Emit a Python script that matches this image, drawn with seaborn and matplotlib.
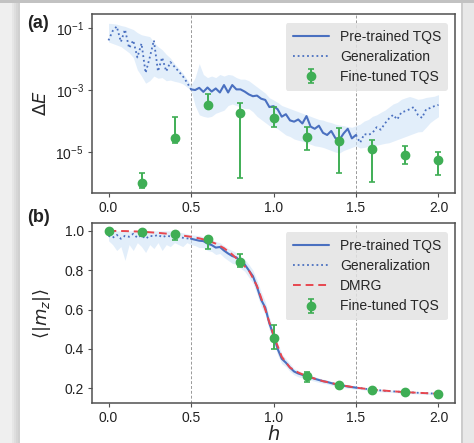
import numpy as np
import pandas as pd
import matplotlib
matplotlib.use("Agg")
import matplotlib.pyplot as plt
from matplotlib.patches import Rectangle
import seaborn as sns

# ---------------- data ----------------
# transverse field grid for the network curves
h_grid = np.round(np.arange(81) * 0.025, 3)

# (a) log10 of the energy error of the pre-trained / generalised model
log_dE_line = [
    -1.40, -1.10, -0.95, -1.45, -1.05, -1.65, -1.40, -1.95, -1.50, -2.45,
    -1.95, -1.40, -2.40, -1.95, -2.40, -2.10, -2.25, -2.40, -2.55, -2.75,
    -2.98, -3.00, -2.93, -3.06, -2.92, -3.05, -2.95, -3.08, -2.84, -3.08,
    -2.84, -2.98, -2.98, -3.05, -3.14, -3.20, -3.18, -3.28, -3.32, -3.55,
    -3.52, -3.62, -3.86, -3.78, -3.98, -4.02, -3.95, -4.08, -3.84, -4.18,
    -4.25, -4.15, -4.38, -4.45, -4.32, -4.55, -4.60, -4.40, -4.25, -4.56,
    -4.45, -4.70, -4.42, -4.45, -4.38, -4.20, -4.28, -4.08, -3.92, -3.80,
    -3.95, -3.72, -3.68, -3.62, -3.55, -3.80, -3.90, -3.62, -3.58, -3.52,
    -3.48,
]
log_dE_band_hi = [
    -0.85, -0.86, -0.88, -0.92, -0.95, -1.00, -1.05, -1.15, -1.22, -1.25,
    -1.28, -1.45, -1.60, -1.70, -1.85, -1.97, -2.15, -2.30, -2.45, -2.65,
    -2.84, -2.60, -2.15, -2.50, -2.60, -2.55, -2.60, -2.50, -2.55, -2.50,
    -2.52, -2.60, -2.65, -2.65, -2.70, -2.80, -2.90, -3.00, -3.10, -3.25,
    -3.32, -3.40, -3.50, -3.55, -3.60, -3.65, -3.70, -3.75, -3.80, -3.85,
    -3.90, -3.95, -3.97, -4.02, -4.05, -4.10, -4.13, -4.15, -4.18, -4.20,
    -4.15, -4.10, -4.00, -3.95, -3.85, -3.80, -3.72, -3.65, -3.55, -3.45,
    -3.40, -3.30, -3.25, -3.21, -3.25, -3.30, -3.28, -3.24, -3.22, -3.20,
    -3.15,
]
log_dE_band_lo = [
    -1.45, -1.50, -1.55, -1.60, -1.70, -1.80, -1.95, -2.35, -2.55, -2.78,
    -2.70, -2.55, -2.62, -2.60, -2.70, -2.68, -2.72, -2.75, -2.80, -2.90,
    -3.00, -3.50, -3.80, -3.85, -3.88, -3.85, -3.75, -3.70, -3.65, -3.50,
    -3.45, -3.50, -3.55, -3.60, -3.60, -3.70, -3.85, -3.95, -4.05, -4.15,
    -4.18, -4.25, -4.35, -4.45, -4.50, -4.58, -4.62, -4.65, -4.70, -4.75,
    -4.80, -4.82, -4.85, -4.90, -4.95, -5.00, -5.03, -4.95, -4.90, -4.85,
    -4.80, -4.87, -4.85, -4.82, -4.80, -4.78, -4.75, -4.72, -4.70, -4.65,
    -4.60, -4.55, -4.50, -4.45, -4.40, -4.35, -4.34, -4.20, -4.05, -3.95,
    -3.86,
]

# (b) magnetisation of the pre-trained / generalised model
mz_line = [
    0.975, 0.965, 0.980, 0.960, 0.975, 0.970, 0.985, 0.965, 0.978, 0.960,
    0.975, 0.972, 0.980, 0.968, 0.975, 0.972, 0.975, 0.970, 0.965, 0.962,
    0.960, 0.955, 0.950, 0.948, 0.935, 0.928, 0.915, 0.918, 0.900, 0.885,
    0.872, 0.865, 0.845, 0.830, 0.800, 0.770, 0.715, 0.650, 0.610, 0.530,
    0.470, 0.400, 0.350, 0.330, 0.305, 0.285, 0.275, 0.268, 0.262, 0.255,
    0.248, 0.242, 0.236, 0.232, 0.226, 0.221, 0.217, 0.213, 0.209, 0.206,
    0.203, 0.201, 0.198, 0.195, 0.193, 0.191, 0.189, 0.187, 0.186, 0.184,
    0.183, 0.181, 0.180, 0.179, 0.178, 0.177, 0.176, 0.175, 0.174, 0.173,
    0.172,
]
mz_band_hi = [
    1.000, 1.000, 1.000, 1.000, 1.000, 1.000, 1.000, 1.000, 1.000, 1.000,
    1.000, 1.000, 1.000, 1.000, 1.000, 1.000, 1.000, 0.995, 0.990, 0.985,
    0.980, 0.978, 0.975, 0.970, 0.960, 0.955, 0.945, 0.940, 0.925, 0.910,
    0.900, 0.890, 0.870, 0.855, 0.830, 0.800, 0.750, 0.690, 0.640, 0.560,
    0.500, 0.430, 0.375, 0.350, 0.325, 0.300, 0.290, 0.280, 0.274, 0.266,
    0.258, 0.252, 0.246, 0.241, 0.235, 0.230, 0.225, 0.221, 0.217, 0.213,
    0.210, 0.207, 0.204, 0.201, 0.199, 0.197, 0.195, 0.193, 0.191, 0.190,
    0.188, 0.187, 0.186, 0.185, 0.184, 0.183, 0.182, 0.181, 0.180, 0.179,
    0.178,
]
mz_band_lo = [
    0.950, 0.930, 0.900, 0.920, 0.850, 0.930, 0.900, 0.940, 0.920, 0.890,
    0.930, 0.910, 0.940, 0.900, 0.930, 0.920, 0.940, 0.930, 0.920, 0.940,
    0.930, 0.925, 0.915, 0.915, 0.900, 0.895, 0.880, 0.885, 0.865, 0.850,
    0.835, 0.830, 0.810, 0.795, 0.765, 0.735, 0.680, 0.615, 0.575, 0.495,
    0.440, 0.370, 0.325, 0.310, 0.285, 0.268, 0.258, 0.252, 0.247, 0.241,
    0.235, 0.230, 0.225, 0.222, 0.216, 0.211, 0.208, 0.204, 0.200, 0.198,
    0.195, 0.194, 0.191, 0.188, 0.186, 0.184, 0.182, 0.180, 0.180, 0.178,
    0.177, 0.175, 0.174, 0.173, 0.172, 0.171, 0.170, 0.169, 0.168, 0.167,
    0.166,
]

# exact reference from DMRG
h_dmrg = [0.0, 0.1, 0.2, 0.3, 0.4, 0.5, 0.55, 0.6, 0.65, 0.7, 0.75, 0.8,
          0.85, 0.9, 0.95, 1.0, 1.05, 1.1, 1.15, 1.2, 1.3, 1.4, 1.5, 1.6,
          1.7, 1.8, 1.9, 2.0]
mz_dmrg = [1.000, 0.999, 0.996, 0.990, 0.982, 0.970, 0.962, 0.952, 0.935,
           0.912, 0.880, 0.840, 0.800, 0.720, 0.600, 0.470, 0.360, 0.305,
           0.280, 0.262, 0.236, 0.217, 0.203, 0.193, 0.186, 0.180, 0.176,
           0.172]

# fine-tuned model at selected fields
h_ft_a = [0.2, 0.4, 0.6, 0.8, 1.0, 1.2, 1.4, 1.6, 1.8, 2.0]
log_dE_ft = [-5.99, -4.54, -3.49, -3.75, -3.91, -4.51, -4.65, -4.91, -5.10, -5.26]
log_dE_ft_lo = [-6.15, -4.72, -3.55, -5.85, -4.18, -4.94, -5.67, -5.96, -5.39, -5.74]
log_dE_ft_hi = [-5.69, -3.86, -3.14, -3.43, -3.56, -4.18, -4.24, -4.61, -4.80, -4.99]

h_ft_b = [0.0, 0.2, 0.4, 0.6, 0.8, 1.0, 1.2, 1.4, 1.6, 1.8, 2.0]
mz_ft = [1.000, 0.996, 0.983, 0.958, 0.844, 0.456, 0.263, 0.215, 0.193, 0.180, 0.173]
mz_ft_err_lo = [0.004, 0.004, 0.030, 0.050, 0.026, 0.054, 0.031, 0.006, 0.005, 0.004, 0.004]
mz_ft_err_hi = [0.003, 0.003, 0.008, 0.010, 0.036, 0.065, 0.020, 0.006, 0.005, 0.004, 0.004]

# training window
h_train = (0.5, 1.5)

# ---------------- style ----------------
sns.set_theme(style="ticks")
plt.rcParams["font.family"] = ["Liberation Sans", "DejaVu Sans"]
plt.rcParams["mathtext.fontset"] = "dejavusans"

c_line = "#4a70c0"
c_band = "#cfe3f8"
c_ft = "#3fae55"
c_dmrg = "#e8474f"

fig = plt.figure(figsize=(4.74, 4.43), dpi=100)
fig.patch.set_facecolor("white")

# page edges around the panels, with a soft shadow on the left
fig.patches.append(Rectangle((0, 0), 20 / 474, 1, transform=fig.transFigure,
                             facecolor="#efefef", edgecolor="none", zorder=0))
for i, shade in enumerate(["#e6e6e6", "#dedede", "#d6d6d6", "#d0d0d0"]):
    fig.patches.append(Rectangle(((12 + 2 * i) / 474, 0), 2 / 474, 1,
                                 transform=fig.transFigure, facecolor=shade,
                                 edgecolor="none", zorder=0))
fig.patches.append(Rectangle((462 / 474, 0), 12 / 474, 1, transform=fig.transFigure,
                             facecolor="#e8e8e8", edgecolor="none", zorder=0))
fig.patches.append(Rectangle((461 / 474, 0), 1.5 / 474, 1, transform=fig.transFigure,
                             facecolor="#cccccc", edgecolor="none", zorder=0))
fig.patches.append(Rectangle((0, 1 - 3 / 443), 1, 3 / 443, transform=fig.transFigure,
                             facecolor="#c2c2c2", edgecolor="none", zorder=0))

ax_a = fig.add_axes([92 / 474, 1 - 193 / 443, 363 / 474, 179 / 443])
ax_b = fig.add_axes([92 / 474, 1 - 403 / 443, 363 / 474, 180 / 443])

h = np.array(h_grid)
inside = (h >= h_train[0] - 1e-9) & (h <= h_train[1] + 1e-9)
left = h <= h_train[0] + 1e-9
right = h >= h_train[1] - 1e-9


def draw_curves(ax, y, lo, hi):
    y = np.asarray(y)
    ax.fill_between(h, lo, hi, color=c_band, alpha=0.6, lw=0, zorder=1)
    df_in = pd.DataFrame({"h": h[inside], "y": y[inside]})
    sns.lineplot(data=df_in, x="h", y="y", ax=ax, color=c_line, lw=1.5,
                 estimator=None, zorder=3)
    pre = ax.lines[-1]
    for mask in (left, right):
        df_g = pd.DataFrame({"h": h[mask], "y": y[mask]})
        sns.lineplot(data=df_g, x="h", y="y", ax=ax, color=c_line, lw=1.3,
                     linestyle=(0, (1, 1.6)), estimator=None, zorder=3)
    gen = ax.lines[-1]
    return pre, gen


# ---------------- panel (a) ----------------
ax = ax_a
ax.set_yscale("log")
pre, gen = draw_curves(ax, 10.0 ** np.array(log_dE_line),
                       10.0 ** np.array(log_dE_band_lo),
                       10.0 ** np.array(log_dE_band_hi))
ft_val = 10.0 ** np.array(log_dE_ft)
ft_err = [ft_val - 10.0 ** np.array(log_dE_ft_lo),
          10.0 ** np.array(log_dE_ft_hi) - ft_val]
eb = ax.errorbar(h_ft_a, ft_val, yerr=ft_err, fmt="o", color=c_ft, ms=6,
                 elinewidth=1.4, capsize=2, capthick=1.2, zorder=4)
for xv in h_train:
    ax.axvline(xv, color="#999999", lw=0.7, ls=(0, (3, 2)), zorder=0.5)
ax.set_xlim(-0.1, 2.1)
ax.set_ylim(10 ** -6.32, 10 ** -0.55)
ax.set_yticks([1e-1, 1e-3, 1e-5])
ax.yaxis.set_minor_locator(matplotlib.ticker.NullLocator())
ax.set_xticks([0.0, 0.5, 1.0, 1.5, 2.0])
ax.set_xlabel("")
ax.set_ylabel(r"$\Delta E$", fontsize=13, labelpad=4)
ax.legend([pre, gen, eb], ["Pre-trained TQS", "Generalization", "Fine-tuned TQS"],
          loc="upper right", fontsize=10, facecolor="#e3e3e3", edgecolor="none",
          framealpha=0.85, borderpad=0.5, handlelength=2.6, labelspacing=0.45,
          bbox_to_anchor=(1.0, 0.99))

# ---------------- panel (b) ----------------
ax = ax_b
pre_b, gen_b = draw_curves(ax, mz_line, mz_band_lo, mz_band_hi)
df_dmrg = pd.DataFrame({"h": h_dmrg, "m": mz_dmrg})
sns.lineplot(data=df_dmrg, x="h", y="m", ax=ax, color=c_dmrg, lw=1.4,
             linestyle=(0, (4, 2.5)), estimator=None, zorder=3.5)
dmrg = ax.lines[-1]
eb_b = ax.errorbar(h_ft_b, mz_ft, yerr=[mz_ft_err_lo, mz_ft_err_hi], fmt="o",
                   color=c_ft, ms=6, elinewidth=1.4, capsize=2, capthick=1.2,
                   zorder=4)
for xv in h_train:
    ax.axvline(xv, color="#999999", lw=0.7, ls=(0, (3, 2)), zorder=0.5)
ax.set_xlim(-0.1, 2.1)
ax.set_ylim(0.125, 1.04)
ax.set_yticks([0.2, 0.4, 0.6, 0.8, 1.0])
ax.set_xticks([0.0, 0.5, 1.0, 1.5, 2.0])
ax.set_xlabel(r"$h$", fontsize=14, labelpad=0)
ax.set_ylabel(r"$\langle|m_z|\rangle$", fontsize=13, labelpad=8)
ax.legend([pre_b, gen_b, dmrg, eb_b],
          ["Pre-trained TQS", "Generalization", "DMRG", "Fine-tuned TQS"],
          loc="upper right", fontsize=10, facecolor="#e3e3e3", edgecolor="none",
          framealpha=0.85, borderpad=0.5, handlelength=2.6, labelspacing=0.45,
          bbox_to_anchor=(1.0, 0.99))

for ax in (ax_a, ax_b):
    for sp in ax.spines.values():
        sp.set_color("#505050")
        sp.set_linewidth(1.1)
    ax.tick_params(labelsize=10, length=3, width=0.8, color="#505050",
                   labelcolor="#222222", pad=3)

fig.text(27 / 474, 1 - 23 / 443, "(a)", fontsize=13, fontweight="bold",
         va="center", ha="left", color="#222222")
fig.text(27 / 474, 1 - 217 / 443, "(b)", fontsize=13, fontweight="bold",
         va="center", ha="left", color="#222222")

fig.savefig("out.png", dpi=100, facecolor=fig.get_facecolor())
